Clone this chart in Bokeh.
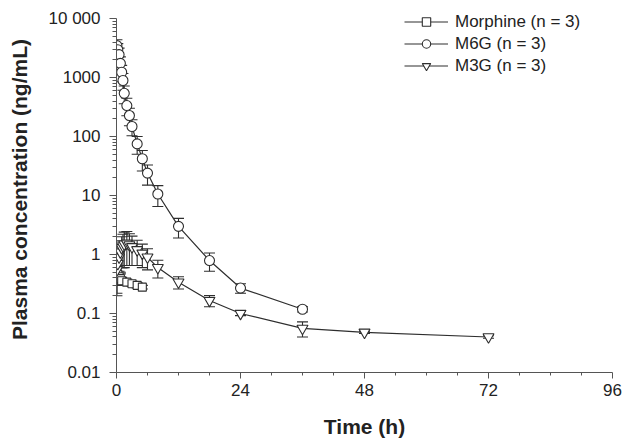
from bokeh.plotting import figure
from bokeh.models import (FixedTicker, Whisker, ColumnDataSource, Legend, LegendItem,
                          TeeHead, Range1d)
from bokeh.embed import file_html
from bokeh.resources import INLINE

# ---- data ----
morphine_t = [0.083, 0.25, 0.5, 0.75, 1, 2, 3, 4, 5]
morphine_c = [0.50, 0.46, 0.42, 0.39, 0.36, 0.34, 0.32, 0.30, 0.28]
morphine_sd = [0.28, 0.15, 0.10, 0.08, 0.05, 0.04, 0.03, 0.03, 0.02]

m6g_t = [0.083, 0.25, 0.5, 0.75, 1, 1.25, 1.5, 2, 2.5, 3, 4, 5, 6, 8, 12, 18, 24, 36]
m6g_c = [3470, 2960, 2450, 1740, 1230, 890, 540, 335, 227, 148, 75, 42, 24, 10.6, 3.0, 0.79, 0.27, 0.118]
m6g_sd = [900, 800, 700, 500, 380, 280, 180, 110, 75, 45, 25, 16, 9, 4.1, 1.1, 0.27, 0.05, 0.012]

m3g_t = [0.083, 0.25, 0.5, 0.75, 1, 1.25, 1.5, 2, 2.5, 3, 4, 5, 6, 8, 12, 18, 24, 36, 48, 72]
m3g_c = [0.55, 0.7, 0.9, 1.1, 1.3, 1.4, 1.5, 1.55, 1.45, 1.35, 1.2, 1.05, 0.9, 0.6, 0.34, 0.166, 0.10, 0.056, 0.048, 0.040]
m3g_sd = [0.35, 0.4, 0.5, 0.6, 0.7, 0.8, 0.9, 0.9, 0.8, 0.7, 0.55, 0.45, 0.35, 0.2, 0.08, 0.036, 0.008, 0.016, 0.002, 0.002]

x_ticks = [0, 24, 48, 72, 96]
x_minor = [6, 12, 18, 30, 36, 42, 54, 60, 66, 78, 84, 90]
y_ticks = [0.01, 0.1, 1, 10, 100, 1000, 10000]
y_labels = ["0.01", "0.1", "1", "10", "100", "1000", "10 000"]

legend_labels = ["Morphine (n = 3)", "M6G (n = 3)", "M3G (n = 3)"]

INK = "#2e2e2e"
AXIS = "#555555"
FONT = "Liberation Sans"

# frame reaches a little above the 10 000 tick so the legend is not clipped
p = figure(width=625, height=440, y_axis_type="log",
           x_range=Range1d(0, 96), y_range=Range1d(0.01, 16000),
           output_backend="svg", toolbar_location=None,
           min_border_left=116, min_border_right=13,
           min_border_top=6, min_border_bottom=68)
p.outline_line_color = None
p.grid.visible = False
p.background_fill_color = "white"
p.border_fill_color = "white"


def series(t, c, sd, marker, size):
    lower = [ci - si for ci, si in zip(c, sd)]
    upper = [ci + si for ci, si in zip(c, sd)]
    src = ColumnDataSource(dict(t=t, c=c, lower=lower, upper=upper))
    w = Whisker(base="t", upper="upper", lower="lower", source=src,
                line_color=INK, line_width=1.1,
                upper_head=TeeHead(size=11, line_color=INK, line_width=1.1),
                lower_head=TeeHead(size=11, line_color=INK, line_width=1.1))
    p.add_layout(w)
    ln = p.line("t", "c", source=src, line_color=INK, line_width=1.2)
    sc = p.scatter("t", "c", source=src, marker=marker, size=size,
                   fill_color="white", line_color=INK, line_width=1.1)
    return [ln, sc]


r_m = series(morphine_t, morphine_c, morphine_sd, "square", 8)
r_6 = series(m6g_t, m6g_c, m6g_sd, "circle", 10)
r_3 = series(m3g_t, m3g_c, m3g_sd, "inverted_triangle", 11)

legend = Legend(items=[LegendItem(label=legend_labels[0], renderers=r_m),
                       LegendItem(label=legend_labels[1], renderers=r_6),
                       LegendItem(label=legend_labels[2], renderers=r_3)],
                location=(288, 296), orientation="vertical",
                glyph_width=44, glyph_height=21, label_height=21,
                spacing=1, padding=0, margin=0, label_standoff=7,
                border_line_color=None, background_fill_alpha=0,
                label_text_font=FONT, label_text_font_size="17px",
                label_text_color="#222222")
p.add_layout(legend, "center")

# x axis
xa = p.xaxis[0]
xa.ticker = FixedTicker(ticks=x_ticks, minor_ticks=x_minor)
xa.axis_label = "Time (h)"
xa.axis_label_text_font = FONT
xa.axis_label_text_font_style = "bold"
xa.axis_label_text_font_size = "21px"
xa.axis_label_text_color = "#222222"
xa.axis_label_standoff = 16
xa.major_label_text_font = FONT
xa.major_label_text_font_size = "17px"
xa.major_label_text_color = "#222222"
xa.major_label_standoff = 5
xa.axis_line_color = AXIS
xa.major_tick_line_color = AXIS
xa.minor_tick_line_color = AXIS
xa.major_tick_in = 0
xa.major_tick_out = 6
xa.minor_tick_in = 0
xa.minor_tick_out = 3

# y axis
ya = p.yaxis[0]
ya.bounds = (0.01, 10000)
ya.ticker = FixedTicker(ticks=y_ticks,
                        minor_ticks=[m * 10.0 ** e for e in range(-2, 4) for m in range(2, 10)])
ya.major_label_overrides = {v: s for v, s in zip(y_ticks, y_labels)}
ya.axis_label = "Plasma concentration (ng/mL)"
ya.axis_label_text_font = FONT
ya.axis_label_text_font_style = "bold"
ya.axis_label_text_font_size = "21px"
ya.axis_label_text_color = "#222222"
ya.axis_label_standoff = 15
ya.major_label_text_font = FONT
ya.major_label_text_font_size = "17px"
ya.major_label_text_color = "#222222"
ya.major_label_standoff = 9
ya.axis_line_color = AXIS
ya.major_tick_line_color = AXIS
ya.minor_tick_line_color = AXIS
ya.major_tick_in = 0
ya.major_tick_out = 7
ya.minor_tick_in = 0
ya.minor_tick_out = 4

open("out.html", "w").write(file_html(p, INLINE))
